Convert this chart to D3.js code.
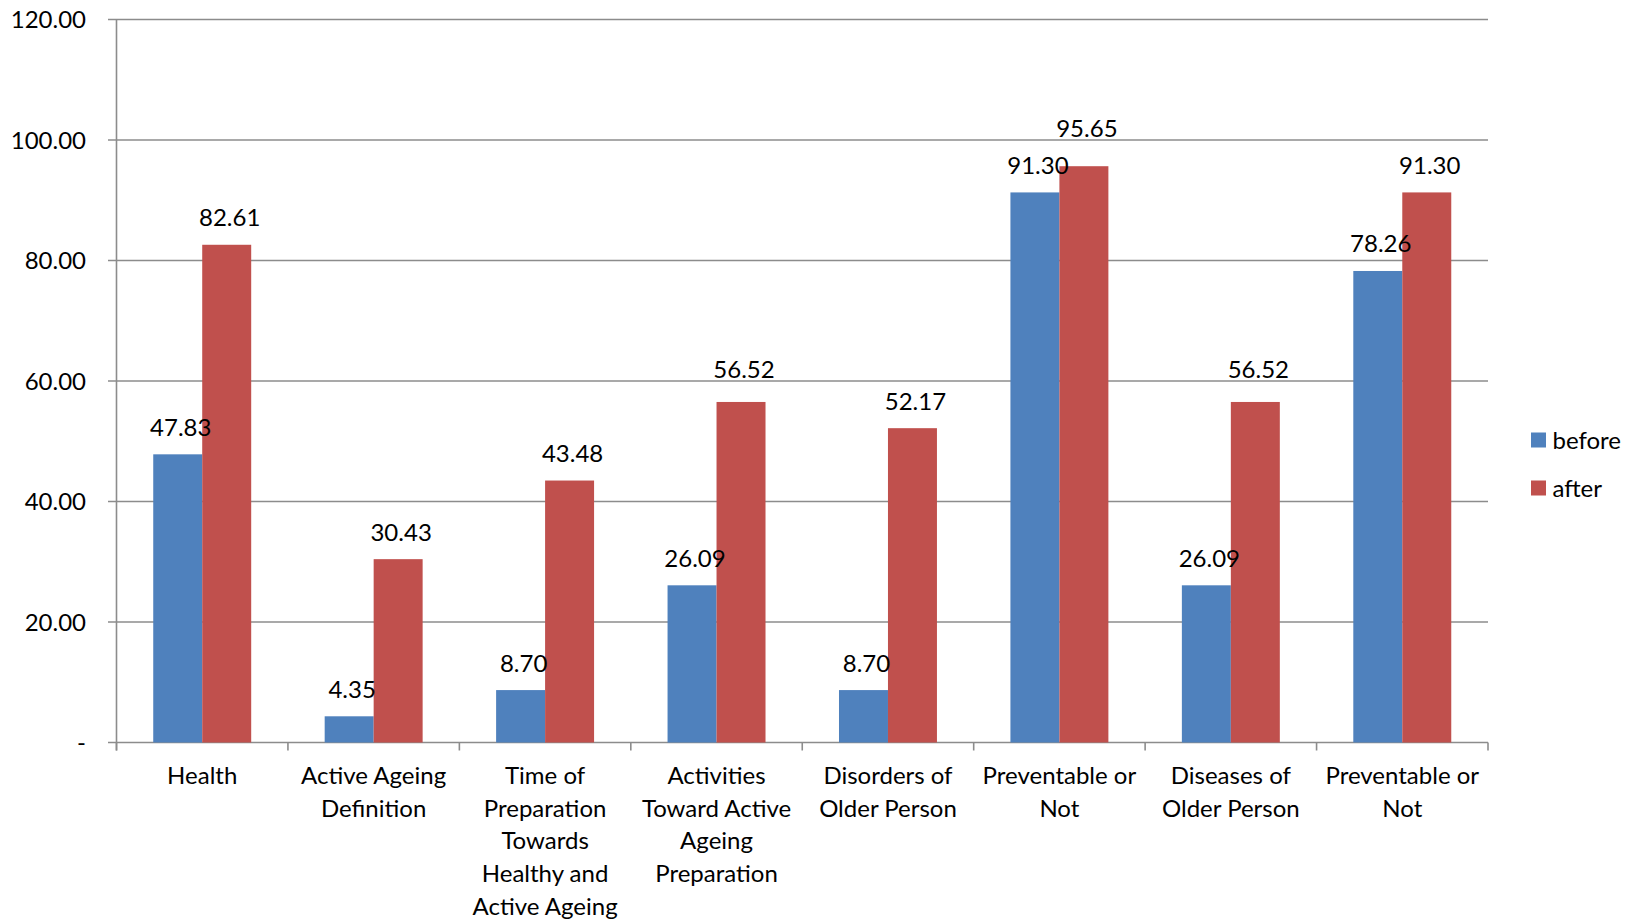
<!DOCTYPE html>
<html>
<head>
<meta charset="utf-8">
<script src="https://cdn.jsdelivr.net/npm/d3@7"></script>
<style>
  html, body { margin: 0; padding: 0; background: #fff; }
  svg text { font-family: Lato, "Open Sans", sans-serif; fill: #000; }
</style>
</head>
<body>
<svg id="chart" width="1641" height="920"></svg>
<script>
// Category labels (line breaks as drawn under the axis)
const categories = [
  ["Health"],
  ["Active Ageing", "Definition"],
  ["Time of", "Preparation", "Towards", "Healthy and", "Active Ageing"],
  ["Activities", "Toward Active", "Ageing", "Preparation"],
  ["Disorders of", "Older Person"],
  ["Preventable or", "Not"],
  ["Diseases of", "Older Person"],
  ["Preventable or", "Not"]
];
const seriesNames = ["before", "after"];
const beforeValues = [47.83, 4.35, 8.70, 26.09, 8.70, 91.30, 26.09, 78.26];
const afterValues  = [82.61, 30.43, 43.48, 56.52, 52.17, 95.65, 56.52, 91.30];
const yTicks = [0, 20, 40, 60, 80, 100, 120];

const colors = { before: "#4F81BD", after: "#C0504D" };

const svg = d3.select("#chart");
const plot = { left: 116.5, right: 1488, top: 19.5, bottom: 742.5 };
const fontSize = "24px";

const x0 = d3.scaleBand()
  .domain(d3.range(categories.length))
  .range([plot.left, plot.right])
  .paddingInner(0).paddingOuter(0);

// Each bar is 1/3.5 of a category slot (gap width 150%)
const x1 = d3.scaleBand()
  .domain(seriesNames)
  .range([0, x0.bandwidth()])
  .paddingInner(0)
  .paddingOuter(0.75);

const y = d3.scaleLinear().domain([0, 120]).range([plot.bottom, plot.top]);

const fmt = v => v === 0 ? "-" : d3.format(".2f")(v);

// Horizontal gridlines with left tick stubs
const grid = svg.append("g");
grid.selectAll("line")
  .data(yTicks)
  .join("line")
  .attr("x1", plot.left - 8.5)
  .attr("x2", plot.right)
  .attr("y1", d => y(d))
  .attr("y2", d => y(d))
  .attr("stroke", "#8c8c8c")
  .attr("stroke-width", 1.6);

// Y axis labels
svg.append("g").selectAll("text")
  .data(yTicks)
  .join("text")
  .attr("x", 86)
  .attr("y", d => y(d))
  .attr("dy", "0.36em")
  .attr("text-anchor", "end")
  .style("font-size", fontSize)
  .text(fmt);

// Vertical axis line
svg.append("line")
  .attr("x1", plot.left).attr("x2", plot.left)
  .attr("y1", plot.top).attr("y2", plot.bottom + 8)
  .attr("stroke", "#8c8c8c").attr("stroke-width", 1.6);

// Category boundary ticks under the baseline
const bounds = d3.range(categories.length + 1).map(i => plot.left + i * x0.bandwidth());
svg.append("g").selectAll("line")
  .data(bounds)
  .join("line")
  .attr("x1", d => d).attr("x2", d => d)
  .attr("y1", plot.bottom).attr("y2", plot.bottom + 8)
  .attr("stroke", "#8c8c8c").attr("stroke-width", 1.6);

// Bars
const rows = categories.map((c, i) => ({
  i,
  values: [
    { key: "before", value: beforeValues[i] },
    { key: "after", value: afterValues[i] }
  ]
}));

const groups = svg.append("g").selectAll("g")
  .data(rows)
  .join("g")
  .attr("transform", d => `translate(${x0(d.i)},0)`);

groups.selectAll("rect")
  .data(d => d.values)
  .join("rect")
  .attr("x", d => x1(d.key))
  .attr("width", x1.bandwidth())
  .attr("y", d => y(d.value))
  .attr("height", d => y(0) - y(d.value))
  .attr("fill", d => colors[d.key]);

// Value labels above the bars; lifted clear of a gridline they would cross
const gridYs = yTicks.map(t => y(t));
groups.selectAll("text.value")
  .data(d => d.values)
  .join("text")
  .attr("class", "value")
  .attr("x", d => x1(d.key) + x1.bandwidth() / 2 + 3)
  .attr("y", d => {
    let base = y(d.value) - 18.5;
    const top = base - 17;
    for (const g of gridYs) {
      if (g > top - 1 && g < base + 2) base = g - 3.5;
    }
    return base;
  })
  .attr("text-anchor", "middle")
  .style("font-size", fontSize)
  .text(d => d.value.toFixed(2));

// Category labels
const catLabels = svg.append("g").selectAll("text")
  .data(categories)
  .join("text")
  .attr("x", (d, i) => x0(i) + x0.bandwidth() / 2)
  .attr("y", 784)
  .attr("text-anchor", "middle")
  .style("font-size", fontSize);
catLabels.selectAll("tspan")
  .data(d => d)
  .join("tspan")
  .attr("x", function () { return this.parentNode.getAttribute("x"); })
  .attr("dy", (d, j) => j === 0 ? 0 : 32.7)
  .text(d => d);

// Legend
const legend = svg.append("g").selectAll("g")
  .data(seriesNames)
  .join("g")
  .attr("transform", (d, i) => `translate(1531,${440 + i * 48})`);
legend.append("rect")
  .attr("x", 0).attr("y", -7.5)
  .attr("width", 15).attr("height", 15)
  .attr("fill", d => colors[d]);
legend.append("text")
  .attr("x", 21.5).attr("y", 0)
  .attr("dy", "0.36em")
  .style("font-size", fontSize)
  .text(d => d);
</script>
</body>
</html>
